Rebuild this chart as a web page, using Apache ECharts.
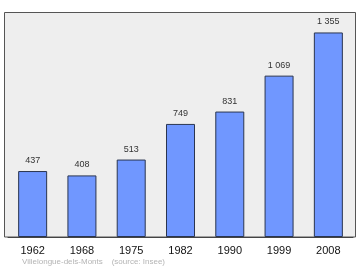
<!DOCTYPE html>
<html><head><meta charset="utf-8">
<script src="https://cdn.jsdelivr.net/npm/echarts@6/dist/echarts.min.js"></script>
<style>html,body{margin:0;padding:0;background:#fff}#c{width:360px;height:270px}</style>
</head><body><div id="c"></div>
<script>
var years = ['1962','1968','1975','1982','1990','1999','2008'];
var population = [437, 408, 513, 749, 831, 1069, 1355];
var labels = ['437','408','513','749','831','1 069','1 355'];
var sourceText = 'Villelongue-dels-Monts    (source: Insee)';

var chart = echarts.init(document.getElementById('c'), null, {renderer:'canvas'});
chart.setOption({
  animation: false,
  graphic: [
    {type:'rect', shape:{x:4.5,y:12.5,width:351,height:224.5}, style:{fill:'#eeeeee', stroke:'#555555', lineWidth:1}, z:-10},
    {type:'text', left:22, top:258, style:{text:sourceText, fill:'#b4b4b4', font:'8px "Liberation Sans", Arial, sans-serif'}}
  ],
  grid: {left:8, right:7, top:12, bottom:33, containLabel:false},
  xAxis: {
    type:'category', data: years,
    axisLine:{show:true, lineStyle:{color:'#444444', width:1}},
    axisTick:{show:false},
    axisLabel:{color:'#111', fontSize:11, fontFamily:'"Liberation Sans", Arial, sans-serif', margin:8}
  },
  yAxis: {
    type:'value', min:0, max:1490.5,
    show:false, splitLine:{show:false}
  },
  series: [{
    type:'bar', data: population, barWidth:29,
    itemStyle:{color:'#7097ff', borderColor:'#2a3550', borderWidth:1},
    label:{show:true, position:'top', distance:6, color:'#333', fontSize:9,
      fontFamily:'"Liberation Sans", Arial, sans-serif',
      formatter:function(p){return labels[p.dataIndex];}}
  }]
});
</script></body></html>
